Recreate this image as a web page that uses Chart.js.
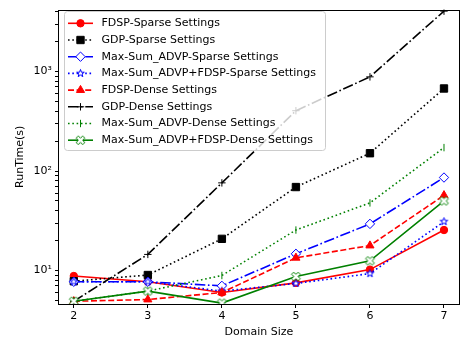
<!DOCTYPE html>
<html>
<head>
<meta charset="utf-8">
<script src="https://cdn.jsdelivr.net/npm/chart.js@4.4.0/dist/chart.umd.min.js"></script>
<style>
  html, body { margin: 0; padding: 0; background: #fff; }
  canvas { display: block; }
</style>
</head>
<body>
<canvas id="myChart" width="465" height="341"></canvas>
<script>
// values (RunTime in seconds, log scale)
var domainSizes = [2, 3, 4, 5, 6, 7];
var fdspSparse = [8.8, 7.7, 6.0, 7.5, 10.2, 25.5];
var gdpSparse = [7.8, 9.0, 20.8, 69, 151, 676];
var maxSumSparse = [7.7, 7.7, 7.0, 14.7, 29.4, 86];
var maxSumFdspSparse = [7.7, 7.7, 6.2, 7.4, 9.3, 31];
var fdspDense = [4.9, 5.1, 6.0, 13.4, 17.8, 57];
var gdpDense = [4.9, 14.5, 76, 404, 885, 4050];
var maxSumDense = [4.9, 6.2, 8.9, 25.5, 47.8, 172];
var maxSumFdspDense = [4.9, 6.2, 4.7, 8.7, 12.5, 50];

var xTicks = [2, 3, 4, 5, 6, 7];
var yMajorTicks = [10, 100, 1000];
var yTickLabels = ['10\u00b9', '10\u00b2', '10\u00b3'];
var yMinorTicks = [5, 6, 7, 8, 9, 20, 30, 40, 50, 60, 70, 80, 90,
    200, 300, 400, 500, 600, 700, 800, 900, 2000, 3000, 4000];

var FONT = 'DejaVu Sans';
var FSIZE = 11;

// hollow markers that Chart.js does not have built in
function markerImage(points, size, color) {
    var c = document.createElement('canvas');
    var s = Math.ceil(size * 2 + 3);
    c.width = s;
    c.height = s;
    var g = c.getContext('2d');
    g.translate(s / 2, s / 2);
    g.beginPath();
    points.forEach(function (p, i) {
        if (i === 0) g.moveTo(p[0] * size, p[1] * size);
        else g.lineTo(p[0] * size, p[1] * size);
    });
    g.closePath();
    g.fillStyle = '#ffffff';
    g.fill();
    g.strokeStyle = color;
    g.lineWidth = 1;
    g.stroke();
    return c;
}

var starPts = [];
for (var k = 0; k < 10; k++) {
    var r = k % 2 === 0 ? 1 : 0.4;
    var a = -Math.PI / 2 + k * Math.PI / 5;
    starPts.push([r * Math.cos(a), r * Math.sin(a)]);
}
var t = 1 / 3;
var plusPts = [[-t, -1], [t, -1], [t, -t], [1, -t], [1, t], [t, t], [t, 1], [-t, 1], [-t, t], [-1, t], [-1, -t], [-t, -t]];
var xPts = plusPts.map(function (p) {
    var c = Math.SQRT1_2;
    return [(p[0] - p[1]) * c, (p[0] + p[1]) * c];
});

var starImg = markerImage(starPts, 4, '#0000ff');
var xImg = markerImage(xPts, 4.6, '#008000');

function makeSet(label, data, color, dash, style, radius, fill, rotation) {
    return {
        label: label,
        data: data,
        borderColor: color,
        borderWidth: 1.6,
        borderDash: dash,
        pointStyle: style,
        pointRadius: radius,
        pointHoverRadius: radius,
        pointRotation: rotation || 0,
        pointBackgroundColor: fill,
        pointBorderColor: color,
        pointBorderWidth: 1,
        fill: false,
        tension: 0
    };
}

var dashed = [6, 2.6];
var dotted = [1.6, 2.7];
var dashDot = [10.5, 2.6, 1.6, 2.6];

var datasets = [
    makeSet('FDSP-Sparse Settings', fdspSparse, '#ff0000', [], 'circle', 3.7, '#ff0000'),
    makeSet('GDP-Sparse Settings', gdpSparse, '#000000', dotted, 'rect', 5.2, '#000000'),
    makeSet('Max-Sum_ADVP-Sparse Settings', maxSumSparse, '#0000ff', dashDot, 'rectRot', 4.7, '#ffffff'),
    makeSet('Max-Sum_ADVP+FDSP-Sparse Settings', maxSumFdspSparse, '#0000ff', dotted, starImg, 4, '#ffffff'),
    makeSet('FDSP-Dense Settings', fdspDense, '#ff0000', dashed, 'triangle', 4.7, '#ff0000'),
    makeSet('GDP-Dense Settings', gdpDense, '#000000', dashDot, 'cross', 3.7, '#000000'),
    makeSet('Max-Sum_ADVP-Dense Settings', maxSumDense, '#008000', dotted, 'line', 3.7, '#008000', 90),
    makeSet('Max-Sum_ADVP+FDSP-Dense Settings', maxSumFdspDense, '#008000', [], xImg, 4.6, '#ffffff')
];
datasets.forEach(function (ds, i) {
    ds.data = ds.data.map(function (v, j) { return { x: domainSizes[j], y: v }; });
    ds.order = datasets.length - i; // later series on top, like matplotlib
});

var framePlugin = {
    id: 'frame',
    afterDatasetsDraw: function (chart) {
        var a = chart.chartArea;
        var ctx = chart.ctx;
        ctx.save();
        ctx.strokeStyle = '#000';
        ctx.lineWidth = 1;
        ctx.strokeRect(Math.round(a.left) - 0.5, Math.round(a.top) + 0.5,
            Math.round(a.right - a.left) + 1, Math.round(a.bottom - a.top));
        ctx.restore();
    }
};

var legendPlugin = {
    id: 'boxLegend',
    afterDraw: function (chart) {
        var ctx = chart.ctx;
        var x0 = 64.5, y0 = 11.5, w = 261, h = 139, rad = 3;
        ctx.save();
        ctx.beginPath();
        ctx.moveTo(x0 + rad, y0);
        ctx.arcTo(x0 + w, y0, x0 + w, y0 + h, rad);
        ctx.arcTo(x0 + w, y0 + h, x0, y0 + h, rad);
        ctx.arcTo(x0, y0 + h, x0, y0, rad);
        ctx.arcTo(x0, y0, x0 + w, y0, rad);
        ctx.closePath();
        ctx.fillStyle = 'rgba(255,255,255,0.8)';
        ctx.fill();
        ctx.strokeStyle = '#cccccc';
        ctx.lineWidth = 1;
        ctx.stroke();

        chart.data.datasets.forEach(function (ds, i) {
            var y = 23.3 + i * 16.7;
            ctx.strokeStyle = ds.borderColor;
            ctx.lineWidth = ds.borderWidth;
            ctx.setLineDash(ds.borderDash);
            ctx.beginPath();
            ctx.moveTo(68, y);
            ctx.lineTo(93, y);
            ctx.stroke();
            ctx.setLineDash([]);
            ctx.fillStyle = ds.pointBackgroundColor;
            ctx.lineWidth = ds.pointBorderWidth;
            Chart.helpers.drawPoint(ctx, {
                pointStyle: ds.pointStyle,
                radius: ds.pointRadius,
                rotation: ds.pointRotation,
                borderWidth: ds.pointBorderWidth
            }, 80.5, y);
            ctx.fillStyle = '#000';
            ctx.font = FSIZE + 'px "' + FONT + '"';
            ctx.textBaseline = 'middle';
            ctx.textAlign = 'left';
            ctx.fillText(ds.label, 101.5, y);
        });
        ctx.restore();
    }
};

var ctx = document.getElementById('myChart').getContext('2d');
var myChart = new Chart(ctx, {
    type: 'line',
    data: { datasets: datasets },
    options: {
        responsive: false,
        animation: false,
        devicePixelRatio: 1,
        layout: { padding: { top: 8, right: 6, bottom: 0, left: 0 } },
        plugins: {
            legend: { display: false },
            tooltip: { enabled: false }
        },
        scales: {
            x: {
                type: 'linear',
                min: 1.8,
                max: 7.2,
                afterBuildTicks: function (scale) {
                    scale.ticks = xTicks.map(function (v) { return { value: v }; });
                },
                afterFit: function (scale) { scale.height = 37; },
                ticks: {
                    color: '#000',
                    font: { family: FONT, size: FSIZE },
                    padding: 2,
                    autoSkip: false,
                    maxRotation: 0
                },
                grid: { display: true, drawOnChartArea: false, drawTicks: true, tickLength: 4, color: '#000' },
                border: { display: false },
                title: {
                    display: true,
                    text: 'Domain Size',
                    color: '#000',
                    font: { family: FONT, size: FSIZE },
                    padding: { top: 0, bottom: 2 }
                }
            },
            y: {
                type: 'logarithmic',
                min: 4.6,
                max: 4200,
                afterBuildTicks: function (scale) {
                    scale.ticks = yMajorTicks.concat(yMinorTicks)
                        .sort(function (a, b) { return a - b; })
                        .map(function (v) { return { value: v }; });
                },
                afterFit: function (scale) { scale.width = 59; },
                ticks: {
                    color: '#000',
                    font: { family: FONT, size: FSIZE },
                    padding: 3,
                    autoSkip: false,
                    callback: function (value) {
                        var i = yMajorTicks.indexOf(value);
                        return i >= 0 ? yTickLabels[i] : '';
                    }
                },
                grid: { display: true, drawOnChartArea: false, drawTicks: true, tickLength: 4, color: '#000' },
                border: { display: false },
                title: {
                    display: true,
                    text: 'RunTime(s)',
                    color: '#000',
                    font: { family: FONT, size: FSIZE },
                    padding: { top: 14, bottom: 0 }
                }
            }
        }
    },
    plugins: [framePlugin, legendPlugin]
});
</script>
</body>
</html>
